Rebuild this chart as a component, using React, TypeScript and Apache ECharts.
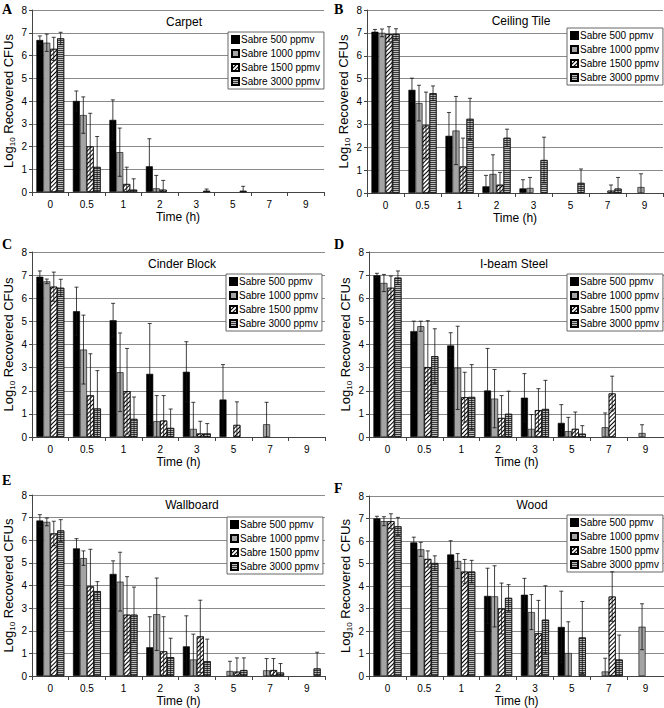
import React, { useEffect, useRef } from 'react';
import * as echarts from 'echarts';

const CATEGORIES = ['0', '0.5', '1', '2', '3', '5', '7', '9'];
const SERIES_NAMES = ['Sabre 500 ppmv', 'Sabre 1000 ppmv', 'Sabre 1500 ppmv', 'Sabre 3000 ppmv'];
const PANEL_TITLES = ['Carpet', 'Ceiling Tile', 'Cinder Block', 'I-beam Steel', 'Wallboard', 'Wood'];
const PANEL_LETTERS = ['A', 'B', 'C', 'D', 'E', 'F'];
const Y_MIN = 0;
const Y_MAX = 8;
const Y_INTERVAL = 1;

// Means (rows: 500, 1000, 1500, 3000 ppmv) and error bars per panel
const carpetMeans = [
  [6.68, 4.0, 3.17, 1.13, 0, 0, 0, 0],
  [6.56, 3.38, 1.75, 0.16, 0, 0, 0, 0],
  [6.29, 2.0, 0.35, 0.1, 0, 0, 0, 0],
  [6.75, 1.1, 0.1, 0, 0.05, 0.05, 0, 0],
];
const carpetErrors = [
  [0.18, 0.44, 0.88, 1.21, 0, 0, 0, 0],
  [0.38, 0.8, 1.06, 0.57, 0, 0, 0, 0],
  [0.51, 1.46, 0.74, 0.41, 0, 0, 0, 0],
  [0.27, 1.34, 0.48, 0, 0.08, 0.2, 0, 0],
];
const ceilingMeans = [
  [7.05, 4.51, 2.5, 0.29, 0.2, 0, 0, 0],
  [7.0, 3.93, 2.73, 0.83, 0.22, 0, 0, 0.26],
  [6.94, 2.95, 1.16, 0.36, 0, 0, 0.1, 0],
  [6.95, 4.36, 3.24, 2.41, 1.44, 0.44, 0.19, 0],
];
const ceilingErrors = [
  [0.1, 0.51, 1.02, 0.48, 0.38, 0, 0, 0],
  [0.17, 0.78, 1.49, 0.84, 0.46, 0, 0, 0.58],
  [0.33, 1.46, 1.24, 0.54, 0, 0, 0.25, 0],
  [0.23, 0.32, 0.9, 0.38, 1.0, 0.61, 0.49, 0],
];
const cinderMeans = [
  [6.93, 5.44, 5.05, 2.73, 2.82, 1.62, 0, 0],
  [6.73, 3.78, 2.8, 0.68, 0.35, 0, 0.55, 0],
  [6.5, 1.8, 1.98, 0.71, 0.15, 0.52, 0, 0],
  [6.45, 1.23, 0.78, 0.39, 0.15, 0, 0, 0],
];
const cinderErrors = [
  [0.25, 1.04, 0.73, 2.18, 1.3, 1.51, 0, 0],
  [0.1, 1.49, 1.7, 1.11, 1.15, 0, 0.95, 0],
  [0.63, 1.8, 1.85, 1.08, 0.53, 1.0, 0, 0],
  [0.37, 1.64, 0.95, 0.82, 0.43, 0, 0, 0],
];
const steelMeans = [
  [6.99, 4.58, 3.96, 2.01, 1.7, 0.61, 0, 0],
  [6.66, 4.79, 2.99, 1.66, 0.35, 0.25, 0.42, 0.17],
  [6.45, 3.02, 1.72, 0.82, 1.16, 0.35, 1.88, 0],
  [6.89, 3.49, 1.73, 1.0, 1.21, 0.14, 0, 0],
];
const steelErrors = [
  [0.09, 0.43, 0.55, 1.82, 1.04, 0.79, 0, 0],
  [0.37, 0.22, 1.8, 1.26, 0.62, 0.6, 0.62, 0.36],
  [0.51, 2.01, 1.08, 0.97, 0.93, 0.73, 0.75, 0],
  [0.29, 1.19, 1.4, 0.98, 1.24, 0.35, 0, 0],
];
const wallboardMeans = [
  [6.87, 5.64, 4.51, 1.27, 1.31, 0, 0, 0],
  [6.81, 5.21, 4.17, 2.73, 0.73, 0.22, 0.25, 0],
  [6.3, 3.96, 2.71, 1.09, 1.75, 0.19, 0.26, 0],
  [6.43, 3.75, 2.71, 0.83, 0.65, 0.26, 0.15, 0.33],
];
const wallboardErrors = [
  [0.26, 0.43, 0.58, 1.35, 1.35, 0, 0, 0],
  [0.17, 0.32, 1.3, 1.6, 1.12, 0.43, 0.52, 0],
  [0.54, 1.64, 1.68, 1.53, 1.6, 0.61, 0.51, 0],
  [0.48, 0.42, 1.22, 0.84, 0.98, 0.54, 0.4, 0.72],
];
const woodMeans = [
  [7.0, 5.94, 5.4, 3.56, 3.61, 2.18, 0, 0],
  [6.88, 5.63, 5.11, 3.54, 2.84, 1.02, 0.2, 2.19],
  [6.88, 5.2, 4.64, 3.0, 1.9, 0, 3.53, 0],
  [6.65, 5.02, 4.64, 3.47, 2.5, 1.71, 0.73, 0],
];
const woodErrors = [
  [0.1, 0.23, 0.61, 1.23, 0.73, 1.59, 0, 0],
  [0.2, 0.31, 0.33, 1.36, 0.78, 1.39, 0.59, 1.02],
  [0.33, 0.36, 0.54, 1.13, 1.46, 0, 1.1, 0],
  [0.4, 0.32, 0.5, 0.59, 1.51, 1.6, 1.09, 0],
];

const PANEL_MEANS = [carpetMeans, ceilingMeans, cinderMeans, steelMeans, wallboardMeans, woodMeans];
const PANEL_ERRORS = [carpetErrors, ceilingErrors, cinderErrors, steelErrors, wallboardErrors, woodErrors];

// Layout (pixels)
const LAYOUT = [
  { grid: { left: 30, top: 10, width: 294, height: 182 }, title: [184, 22], legend: [228, 32], letter: [2, 2] },
  { grid: { left: 367, top: 10, width: 296, height: 183 }, title: [521, 21], legend: [567, 28], letter: [334, 2] },
  { grid: { left: 28, top: 252, width: 297, height: 185 }, title: [182, 264], legend: [226, 274], letter: [2, 237] },
  { grid: { left: 369, top: 252, width: 295, height: 185 }, title: [514, 264], legend: [567, 274], letter: [334, 237] },
  { grid: { left: 29, top: 495, width: 296, height: 184 }, title: [192, 505], legend: [227, 517], letter: [2, 473] },
  { grid: { left: 369, top: 496, width: 295, height: 183 }, title: [532, 505], legend: [567, 515], letter: [334, 481] },
];

const FONT = 'Liberation Sans, Arial, sans-serif';
const CAT_GAP = 0.24;

const BAR_STYLES: any[] = [
  { color: '#000000', borderColor: '#000', borderWidth: 0.6 },
  { color: '#a4a4a4', borderColor: '#000', borderWidth: 0.6 },
  {
    color: '#ffffff',
    borderColor: '#000',
    borderWidth: 0.6,
    decal: {
      symbol: 'rect',
      symbolSize: 1,
      color: '#000000',
      dashArrayX: [1, 0],
      dashArrayY: [1, 2],
      rotation: -Math.PI / 4,
    },
  },
  {
    color: '#bdbdbd',
    borderColor: '#000',
    borderWidth: 0.6,
    decal: {
      symbol: 'rect',
      symbolSize: 1,
      color: '#3a3a3a',
      dashArrayX: [1, 0],
      dashArrayY: [1, 1],
      rotation: 0,
    },
  },
];

function buildOption() {
  const grid: any[] = [];
  const xAxis: any[] = [];
  const yAxis: any[] = [];
  const legend: any[] = [];
  const series: any[] = [];
  const graphic: any[] = [];

  LAYOUT.forEach((l, p) => {
    grid.push({ ...l.grid, containLabel: false });
    xAxis.push({
      type: 'category',
      gridIndex: p,
      data: CATEGORIES,
      boundaryGap: true,
      axisLine: { show: true, lineStyle: { color: '#444', width: 1 } },
      axisTick: { show: true, length: 4, lineStyle: { color: '#444' } },
      axisLabel: { color: '#000', fontSize: 10, margin: 7, fontFamily: FONT },
      splitLine: { show: false },
      name: 'Time (h)',
      nameLocation: 'middle',
      nameGap: 19,
      nameTextStyle: { color: '#000', fontSize: 12, fontFamily: FONT },
    });
    yAxis.push({
      type: 'value',
      gridIndex: p,
      min: Y_MIN,
      max: Y_MAX,
      interval: Y_INTERVAL,
      axisLine: { show: true, lineStyle: { color: '#444', width: 1 } },
      axisTick: { show: true, length: 3, inside: false, lineStyle: { color: '#444' } },
      axisLabel: { color: '#000', fontSize: 10, margin: 5, fontFamily: FONT },
      splitLine: { show: true, lineStyle: { color: '#8a8a8a', width: 1 } },
      name: 'Log{sub|10} Recovered CFUs',
      nameLocation: 'middle',
      nameGap: 16,
      nameTextStyle: {
        color: '#000',
        fontSize: 13,
        fontFamily: FONT,
        lineHeight: 15,
        rich: {
          sub: { fontSize: 8, fontFamily: FONT, color: '#000', verticalAlign: 'bottom', lineHeight: 10 },
        },
      },
    });
    legend.push({
      orient: 'vertical',
      left: l.legend[0],
      top: l.legend[1],
      data: SERIES_NAMES,
      icon: 'rect',
      itemWidth: 7,
      itemHeight: 7,
      itemGap: 3,
      padding: [2, 4, 2, 3],
      borderColor: '#666',
      borderWidth: 1,
      borderRadius: 0,
      backgroundColor: '#ffffff',
      selectedMode: false,
      textStyle: { color: '#000', fontSize: 10, fontFamily: FONT, lineHeight: 11, padding: [0, 0, 0, -3] },
    });

    const means = PANEL_MEANS[p];
    const errs = PANEL_ERRORS[p];
    means.forEach((vals, s) => {
      series.push({
        type: 'bar',
        name: SERIES_NAMES[s],
        xAxisIndex: p,
        yAxisIndex: p,
        data: vals.map((v) => (v > 0 ? v : '-')),
        barGap: '0%',
        barCategoryGap: `${CAT_GAP * 100}%`,
        itemStyle: BAR_STYLES[s],
        emphasis: { disabled: true },
        z: 2,
      });
    });

    const errRows: number[][] = [];
    errs.forEach((row, s) => {
      row.forEach((e, c) => {
        if (e > 0) errRows.push([c, means[s][c], e, s]);
      });
    });
    series.push({
      type: 'custom',
      name: 'err' + p,
      xAxisIndex: p,
      yAxisIndex: p,
      data: errRows,
      encode: { x: 0, y: 1 },
      z: 5,
      clip: false,
      silent: true,
      renderItem: (_params: any, api: any) => {
        const c = api.value(0);
        const v = api.value(1);
        const e = api.value(2);
        const s = api.value(3);
        const band = api.size([1, 0])[0];
        const groupW = band * (1 - CAT_GAP);
        const barW = groupW / 4;
        const cx = api.coord([c, 0])[0] - groupW / 2 + barW * (s + 0.5);
        const yHi = api.coord([c, v + e])[1];
        const lowV = v - e;
        const yLo = api.coord([c, Math.max(0, lowV)])[1];
        const style = { stroke: '#111', lineWidth: 0.8 };
        const children: any[] = [
          { type: 'line', shape: { x1: cx, y1: yLo, x2: cx, y2: yHi }, style },
          { type: 'line', shape: { x1: cx - 2, y1: yHi, x2: cx + 2, y2: yHi }, style },
        ];
        if (lowV > 0) {
          children.push({ type: 'line', shape: { x1: cx - 2, y1: yLo, x2: cx + 2, y2: yLo }, style });
        }
        return { type: 'group', children };
      },
    });

    graphic.push({
      type: 'text',
      x: l.title[0],
      y: l.title[1],
      z: 10,
      style: {
        text: PANEL_TITLES[p],
        fill: '#000',
        font: `12px ${FONT}`,
        fontSize: 12,
        fontFamily: FONT,
        align: 'center',
        verticalAlign: 'middle',
        textAlign: 'center',
        textVerticalAlign: 'middle',
      },
    });
    graphic.push({
      type: 'text',
      x: l.letter[0],
      y: l.letter[1],
      z: 10,
      style: {
        text: PANEL_LETTERS[p],
        fill: '#000',
        font: 'bold 14px Liberation Serif, Times New Roman, serif',
        fontSize: 14,
        fontWeight: 'bold',
        fontFamily: 'Liberation Serif, Times New Roman, serif',
        align: 'left',
        verticalAlign: 'top',
      },
    });
  });

  return {
    animation: false,
    backgroundColor: '#ffffff',
    textStyle: { fontFamily: FONT },
    grid,
    xAxis,
    yAxis,
    legend,
    series,
    graphic,
  };
}

export default function App() {
  const ref = useRef<HTMLDivElement>(null);
  useEffect(() => {
    if (!ref.current) return;
    const chart = echarts.init(ref.current, undefined, { renderer: 'svg' });
    chart.setOption(buildOption() as any);
    return () => chart.dispose();
  }, []);
  return (
    <div
      ref={ref}
      style={{ position: 'absolute', left: 0, top: 0, width: 664, height: 708, background: '#fff' }}
    />
  );
}
